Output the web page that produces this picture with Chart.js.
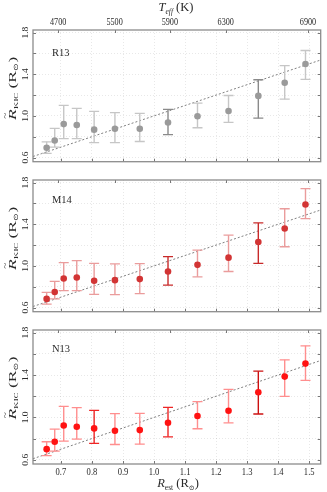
<!DOCTYPE html>
<html>
<head>
<meta charset="utf-8">
<script src="https://cdn.jsdelivr.net/npm/chart.js@4.4.1/dist/chart.umd.min.js"></script>
<style>
  body { margin: 0; background: #fff; }
  .wrap { position: relative; width: 327px; height: 492px; }
  canvas { position: absolute; left: 0; }
</style>
</head>
<body>
<div class="wrap">
  <canvas id="c1" width="327" height="168" style="top:0"></canvas>
  <canvas id="c2" width="327" height="150" style="top:168px"></canvas>
  <canvas id="c3" width="327" height="174" style="top:318px"></canvas>
</div>
<script>
// estimated radius (bin centres), shared by the three panels
const rEst = [0.654, 0.680, 0.709, 0.751, 0.807, 0.874, 0.954, 1.045, 1.140, 1.240, 1.336, 1.421, 1.488];

const r13Val = [0.694, 0.763, 0.921, 0.912, 0.868, 0.877, 0.877, 0.937, 0.997, 1.047, 1.192, 1.319, 1.498];
const r13Hi  = [0.751, 0.880, 1.101, 1.073, 1.044, 1.032, 1.025, 1.063, 1.123, 1.196, 1.347, 1.483, 1.628];
const r13Lo  = [0.640, 0.700, 0.782, 0.782, 0.744, 0.744, 0.754, 0.820, 0.886, 0.937, 0.978, 1.161, 1.350];

const m14Val = [0.683, 0.749, 0.879, 0.889, 0.857, 0.863, 0.873, 0.946, 1.010, 1.079, 1.229, 1.359, 1.590];
const m14Hi  = [0.746, 0.851, 1.032, 1.051, 1.025, 1.019, 1.022, 1.089, 1.152, 1.295, 1.413, 1.549, 1.743];
const m14Lo  = [0.632, 0.683, 0.762, 0.762, 0.727, 0.724, 0.733, 0.816, 0.895, 0.946, 1.025, 1.184, 1.454];

const n13Val = [0.700, 0.770, 0.924, 0.912, 0.896, 0.874, 0.880, 0.949, 1.013, 1.063, 1.237, 1.385, 1.508];
const n13Hi  = [0.770, 0.889, 1.104, 1.092, 1.066, 1.035, 1.038, 1.095, 1.148, 1.265, 1.436, 1.543, 1.676];
const n13Lo  = [0.640, 0.681, 0.776, 0.795, 0.754, 0.744, 0.747, 0.817, 0.893, 0.949, 1.032, 1.199, 1.350];

// ticks
const xTicks = [0.7, 0.8, 0.9, 1.0, 1.1, 1.2, 1.3, 1.4, 1.5];
const yTicks = [0.6, 0.8, 1.0, 1.2, 1.4, 1.6, 1.8];
const yLabelTicks = [0.6, 1.0, 1.4, 1.8];
const teffLabels = ['4700', '5500', '5900', '6300', '6900'];
const teffAtR = [0.691, 0.873, 1.051, 1.231, 1.496];   // where each Teff tick sits on the radius axis

const SERIF = '"Liberation Serif", "DejaVu Serif", serif';

function fnt(r) {
    return (r.i ? 'italic ' : '') + r.s + 'px ' + SERIF;
}

// draw a row of text runs centred on (cx, cy); cy is the baseline
function rich(ctx, runs, cx, cy, rot, sx, sy) {
    ctx.save();
    ctx.translate(cx, cy);
    if (rot) ctx.rotate(-Math.PI / 2);
    ctx.scale(sx || 1, sy || 1);
    let w = 0;
    runs.forEach(r => {
        ctx.font = fnt(r);
        r.w = r.over ? 0 : ctx.measureText(r.t).width;
        w += r.w;
    });
    let x = -w / 2;
    ctx.fillStyle = '#2a2a2a';
    ctx.textBaseline = 'alphabetic';
    ctx.textAlign = 'left';
    runs.forEach(r => {
        ctx.font = fnt(r);
        ctx.fillText(r.t, x + (r.dx || 0), r.dy || 0);
        x += r.w;
    });
    ctx.restore();
}

function decor(o) {
    return {
        id: 'decor',
        afterDraw(chart) {
            const {ctx, chartArea: a, scales: {x, y}} = chart;
            ctx.save();
            // inward tick marks
            ctx.strokeStyle = '#777';
            ctx.lineWidth = 1;
            ctx.beginPath();
            yTicks.forEach(v => {
                const py = Math.round(y.getPixelForValue(v)) + 0.5;
                ctx.moveTo(a.left, py); ctx.lineTo(a.left + 3, py);
                ctx.moveTo(a.right, py); ctx.lineTo(a.right - 3, py);
            });
            xTicks.forEach(v => {
                const px = Math.round(x.getPixelForValue(v)) + 0.5;
                ctx.moveTo(px, a.bottom); ctx.lineTo(px, a.bottom - 3);
            });
            teffAtR.forEach(v => {
                const px = Math.round(x.getPixelForValue(v)) + 0.5;
                ctx.moveTo(px, a.top); ctx.lineTo(px, a.top + 3);
            });
            ctx.stroke();
            // frame
            ctx.strokeStyle = '#8c8c8c';
            ctx.lineWidth = 1.3;
            ctx.strokeRect(a.left, a.top, a.right - a.left, a.bottom - a.top);

            // y tick labels (rotated)
            yLabelTicks.forEach(v => {
                rich(ctx, [{t: v.toFixed(1), s: 9.5}], 27.5, y.getPixelForValue(v), true, 1, 0.9);
            });
            // y title
            const my = (a.top + a.bottom) / 2 + o.titleShift;
            rich(ctx, [
                {t: 'R', s: 14, i: true},
                {t: '~', s: 9, over: true, dx: -7.5, dy: -10},
                {t: 'K', s: 8.5, dy: 2.5},
                {t: 'IC', s: 7, dy: 2.5},
                {t: ' (R', s: 14},
                {t: '\u2299', s: 8, dy: 2.5},
                {t: ')', s: 14}
            ], 16, my, true, 1.25, 0.8);
            // panel name
            ctx.font = '10.5px ' + SERIF;
            ctx.fillStyle = '#2a2a2a';
            ctx.textBaseline = 'middle';
            ctx.fillText(o.name, 52, a.top + o.nameY);

            if (o.top) {
                teffAtR.forEach((v, i) => {
                    rich(ctx, [{t: teffLabels[i], s: 9.5}], x.getPixelForValue(v), 24.5, false, 0.86, 1);
                });
                rich(ctx, [
                    {t: 'T', s: 12.5, i: true},
                    {t: 'eff', s: 7.5, i: true, dy: 2.5},
                    {t: ' (K)', s: 12.5}
                ], 176, 11);
            }
            if (o.bottom) {
                xTicks.forEach(v => {
                    rich(ctx, [{t: v.toFixed(1), s: 9.5}], x.getPixelForValue(v), a.bottom + 10.5, false, 0.9, 1);
                });
                rich(ctx, [
                    {t: 'R', s: 12.5, i: true},
                    {t: 'est', s: 7.5, dy: 2.5},
                    {t: ' (R', s: 12.5},
                    {t: '\u2299', s: 7, dy: 2.5},
                    {t: ')', s: 12.5}
                ], 178, a.bottom + 23);
            }
            ctx.restore();
        }
    };
}

function makePanel(id, vals, lo, hi, o) {
    const pts = rEst.map((r, i) => ({x: r, y: vals[i]}));
    const segs = [];
    const caps = [];
    const capCols = [];
    rEst.forEach((r, i) => {
        segs.push({x: r, y: lo[i]}, {x: r, y: hi[i]}, {x: r, y: null});
        caps.push({x: r, y: lo[i]}, {x: r, y: hi[i]});
        capCols.push(o.barCol(i), o.barCol(i));
    });

    const scales = {
        x: {
            type: 'linear',
            min: 0.61,
            max: 1.537,
            afterBuildTicks(s) { s.ticks = xTicks.map(v => ({value: v})); },
            afterFit(s) { s.height = o.padBottom; },
            ticks: { display: false },
            grid: { color: 'rgba(0,0,0,0.09)', drawTicks: false },
            border: { display: false, dash: [1, 2] }
        },
        y: {
            type: 'linear',
            min: 0.56,
            max: 1.825,
            afterBuildTicks(s) { s.ticks = yTicks.map(v => ({value: v})); },
            afterFit(s) { s.width = 33; },
            ticks: { display: false },
            grid: { color: 'rgba(0,0,0,0.09)', drawTicks: false },
            border: { display: false, dash: [1, 2] }
        }
    };

    const data = {
        datasets: [
            {
                data: pts,
                pointRadius: 3.3,
                pointBackgroundColor: o.marker,
                pointBorderWidth: 0
            },
            {
                data: caps,
                pointStyle: 'line',
                pointRadius: 5,
                pointBorderWidth: 1.3,
                pointBorderColor: capCols
            },
            {
                data: segs,
                showLine: true,
                spanGaps: false,
                pointRadius: 0,
                borderWidth: 1.4,
                segment: { borderColor: c => o.barCol(Math.floor(c.p0DataIndex / 3)) }
            },
            {
                data: [{x: 0.61, y: 0.61}, {x: 1.537, y: 1.537}],
                showLine: true,
                pointRadius: 0,
                borderColor: '#808080',
                borderWidth: 1,
                borderDash: [2, 2]
            }
        ]
    };

    new Chart(document.getElementById(id), {
        type: 'scatter',
        data: data,
        options: {
            responsive: false,
            animation: false,
            events: [],
            layout: { padding: { top: o.padTop, right: 5, left: 0, bottom: 0 } },
            plugins: { legend: { display: false }, tooltip: { enabled: false } },
            scales: scales
        },
        plugins: [decor(o)]
    });
}

makePanel('c1', r13Val, r13Lo, r13Hi, {
    name: 'R13', nameY: 23, titleShift: -7.5, top: true, bottom: false, padTop: 30, padBottom: 5,
    marker: '#9a9a9a',
    barCol: i => (i === 7 || i === 10) ? '#8a8a8a' : '#c6c6c6'
});
makePanel('c2', m14Val, m14Lo, m14Hi, {
    name: 'M14', nameY: 20, titleShift: -7.5, top: false, bottom: false, padTop: 12, padBottom: 5,
    marker: '#d23434',
    barCol: i => (i === 7 || i === 10) ? '#c82a2a' : '#ea9c9c'
});
makePanel('c3', n13Val, n13Lo, n13Hi, {
    name: 'N13', nameY: 19, titleShift: -9, top: false, bottom: true, padTop: 12, padBottom: 28,
    marker: '#ff1212',
    barCol: i => i === 10 ? '#cc1010' : (i === 4 || i === 7) ? '#ee2525' : '#ff8e8e'
});
</script>
</body>
</html>
